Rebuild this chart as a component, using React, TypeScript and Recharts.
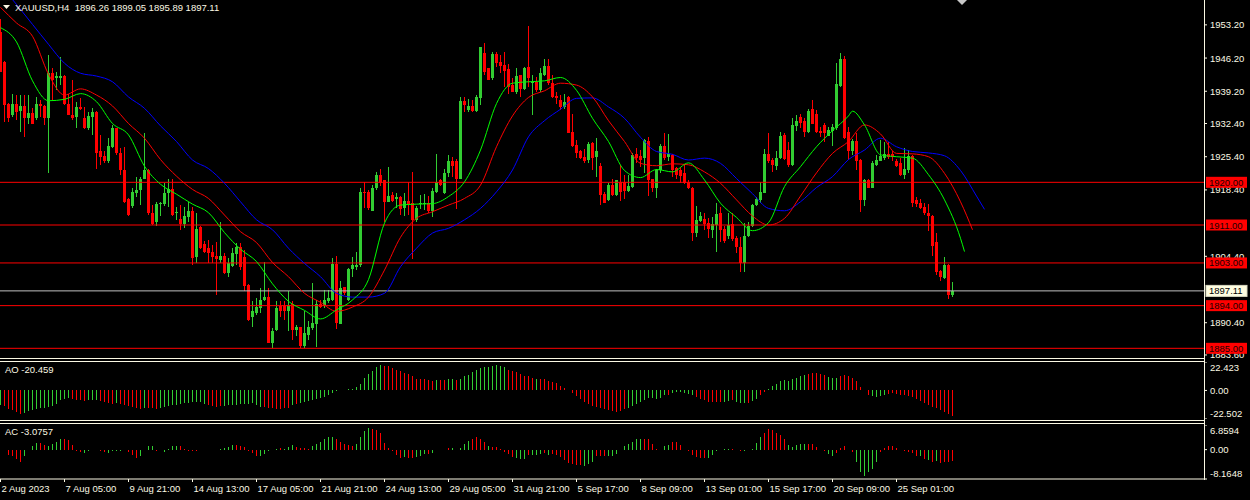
import React from 'react';
import { ComposedChart, Bar, Line, XAxis, YAxis, ReferenceLine } from 'recharts';

// XAUUSD H4 candles, bar 0 = left edge, bar 238 = last bar
const OPEN = [1951.7,1945.4,1936.6,1934.2,1936.6,1935.1,1936.1,1933.5,1934.7,1933.5,
1936.5,1936.1,1933.5,1943.0,1941.9,1941.9,1942.4,1936.5,1934.2,1933.7,
1935.8,1933.5,1931.4,1933.8,1934.9,1926.5,1925.5,1924.4,1927.5,1931.4,
1926.2,1922.7,1916.4,1915.0,1917.7,1918.4,1920.8,1922.6,1913.5,1911.7,
1915.4,1915.4,1917.8,1918.5,1913.5,1912.3,1911.2,1912.6,1914.0,1904.2,
1910.5,1906.9,1906.2,1905.4,1904.5,1903.6,1904.5,1900.8,1902.4,1904.9,
1906.3,1904.3,1898.4,1891.6,1892.4,1893.5,1895.1,1895.9,1886.2,1888.9,
1894.0,1894.0,1892.8,1894.4,1888.9,1889.4,1885.4,1887.9,1889.3,1890.2,
1894.4,1894.0,1894.9,1895.2,1902.8,1890.2,1897.9,1895.2,1901.7,1902.2,
1902.6,1918.0,1918.0,1914.0,1918.7,1921.5,1920.5,1915.9,1917.3,1916.4,
1917.0,1914.5,1916.1,1915.6,1912.1,1915.4,1915.4,1915.7,1914.0,1918.0,
1920.4,1917.7,1921.9,1924.6,1924.4,1920.8,1937.2,1935.2,1936.1,1935.1,
1937.7,1947.3,1944.0,1941.9,1947.0,1945.4,1944.7,1943.8,1940.5,1939.1,
1942.6,1939.6,1944.4,1940.9,1941.2,1939.4,1942.6,1944.5,1940.9,1938.2,
1937.3,1935.8,1937.9,1930.7,1927.9,1926.5,1925.4,1924.8,1928.2,1925.3,
1923.4,1917.5,1916.3,1919.4,1917.3,1920.1,1920.1,1918.2,1919.1,1926.0,
1925.6,1925.1,1928.8,1920.6,1918.9,1922.5,1927.7,1925.4,1925.8,1923.0,
1922.5,1921.9,1920.1,1918.9,1909.3,1911.9,1912.2,1911.4,1910.0,1911.0,
1913.5,1910.1,1908.6,1911.2,1908.2,1906.4,1903.0,1908.6,1910.7,1915.2,
1916.3,1917.8,1926.0,1924.7,1923.4,1925.1,1930.0,1926.8,1923.6,1931.9,
1933.7,1933.0,1930.7,1935.4,1934.4,1930.9,1932.1,1929.8,1930.9,1931.4,
1940.3,1945.9,1930.7,1926.5,1928.8,1924.7,1916.3,1920.5,1918.9,1923.6,
1924.6,1925.1,1926.0,1926.0,1924.6,1924.1,1921.5,1922.6,1925.6,1916.3,
1915.7,1914.7,1913.6,1912.9,1907.5,1901.2,1899.8,1902.6,1896.26];

const HIGH = [1954.5,1945.6,1936.8,1938.7,1938.4,1938.4,1938.4,1938.4,1935.6,1938.0,
1937.3,1936.2,1946.8,1944.0,1943.3,1946.5,1942.6,1938.7,1941.6,1937.0,
1937.7,1935.9,1934.9,1935.6,1935.0,1930.0,1926.5,1929.3,1932.1,1931.5,
1927.2,1927.5,1916.6,1918.7,1921.2,1921.2,1930.3,1922.9,1915.2,1915.9,
1915.9,1919.9,1920.8,1920.8,1914.9,1915.2,1914.9,1915.9,1914.9,1913.5,
1910.7,1907.6,1907.9,1906.8,1907.5,1911.7,1905.0,1904.0,1906.1,1907.2,
1907.2,1905.8,1898.5,1894.9,1895.6,1897.7,1903.3,1897.7,1889.3,1894.9,
1894.9,1894.9,1897.0,1894.9,1890.0,1889.6,1892.8,1890.7,1898.7,1895.2,
1895.2,1897.3,1897.3,1904.0,1904.5,1899.1,1898.0,1901.9,1904.3,1905.4,
1918.7,1920.1,1918.4,1919.4,1922.2,1922.9,1920.5,1923.3,1918.0,1917.7,
1917.1,1917.8,1920.1,1922.2,1915.0,1917.3,1917.5,1917.1,1918.7,1926.0,
1920.8,1922.9,1925.8,1925.4,1924.9,1938.0,1938.0,1937.5,1937.3,1938.4,
1948.6,1949.3,1944.1,1947.5,1947.5,1946.8,1947.5,1944.9,1941.9,1944.0,
1942.7,1944.4,1952.9,1942.6,1942.3,1944.0,1945.9,1946.1,1942.6,1939.1,
1938.4,1938.7,1938.2,1934.5,1928.9,1926.8,1927.0,1928.6,1928.4,1929.3,
1924.0,1918.0,1919.8,1920.6,1920.5,1923.6,1921.5,1921.5,1926.1,1927.2,
1926.8,1929.1,1929.6,1920.8,1922.9,1928.1,1930.5,1930.2,1926.0,1923.3,
1923.3,1923.6,1920.5,1919.0,1915.0,1913.8,1913.5,1912.4,1912.6,1915.6,
1914.9,1910.7,1913.5,1913.5,1908.6,1908.4,1911.4,1911.7,1915.4,1917.0,
1920.1,1927.0,1930.3,1925.1,1926.5,1930.7,1930.3,1928.6,1933.5,1934.2,
1934.5,1933.5,1935.4,1937.3,1935.2,1931.7,1932.6,1931.7,1932.4,1945.1,
1947.3,1946.6,1931.7,1929.1,1930.5,1924.9,1920.8,1920.8,1924.5,1925.8,
1928.9,1928.6,1928.4,1926.5,1924.9,1925.1,1927.2,1926.8,1925.8,1917.0,
1916.4,1915.6,1915.4,1913.1,1909.3,1901.5,1904.2,1902.7,1899.05];

const LOW = [1943.3,1932.8,1932.8,1933.8,1933.1,1930.7,1929.6,1932.4,1932.3,1933.1,
1933.8,1932.1,1921.9,1937.3,1939.4,1940.5,1936.3,1934.1,1933.1,1931.4,
1935.2,1931.3,1931.0,1930.0,1922.9,1923.6,1924.0,1924.0,1927.2,1925.8,
1921.5,1915.6,1913.0,1914.5,1917.0,1915.2,1920.8,1913.1,1911.0,1910.7,
1912.8,1915.0,1914.9,1912.8,1912.1,1910.0,1910.3,1911.7,1902.6,1903.0,
1906.0,1905.0,1903.0,1903.0,1896.3,1903.0,1900.7,1900.1,1902.2,1902.6,
1901.5,1897.0,1890.8,1889.6,1892.1,1892.4,1894.9,1886.1,1885.0,1888.6,
1891.7,1891.0,1888.6,1886.8,1887.5,1885.0,1885.0,1886.8,1888.9,1885.2,
1893.5,1893.5,1894.5,1894.9,1889.0,1890.1,1896.3,1894.9,1900.0,1901.5,
1902.2,1914.5,1914.2,1914.0,1918.4,1919.2,1911.7,1915.9,1915.9,1914.5,
1913.1,1912.9,1913.1,1903.8,1911.7,1914.3,1914.2,1913.5,1912.6,1917.7,
1919.2,1917.5,1921.2,1921.2,1914.3,1920.6,1934.9,1934.9,1934.9,1934.9,
1936.3,1942.6,1941.5,1941.6,1944.4,1943.0,1940.1,1938.7,1939.0,1938.7,
1938.0,1939.4,1940.0,1934.2,1939.1,1939.1,1942.4,1940.5,1937.7,1936.6,
1935.2,1935.5,1930.3,1927.5,1925.1,1924.9,1924.1,1924.1,1922.5,1921.1,
1915.2,1915.6,1916.1,1917.1,1917.1,1916.1,1916.4,1918.0,1918.9,1924.0,
1923.3,1921.9,1917.1,1918.0,1916.6,1922.0,1924.7,1924.4,1921.2,1920.8,
1919.9,1919.7,1918.5,1907.7,1908.4,1911.7,1910.0,1908.2,1908.2,1905.4,
1907.5,1907.2,1908.0,1907.7,1905.0,1901.0,1901.0,1908.4,1910.5,1915.0,
1915.6,1917.7,1924.1,1922.2,1922.5,1924.9,1924.7,1923.3,1923.4,1930.9,
1931.4,1929.6,1930.5,1932.3,1930.3,1929.6,1928.4,1929.7,1927.7,1931.1,
1940.0,1929.1,1924.7,1925.8,1922.6,1913.8,1915.0,1918.7,1918.7,1923.4,
1924.4,1924.7,1924.9,1924.4,1923.3,1921.3,1920.8,1922.0,1914.9,1914.9,
1914.3,1913.1,1909.8,1904.5,1900.5,1899.1,1899.6,1895.4,1895.89];

const CLOSE = [1943.3,1936.3,1933.5,1936.6,1934.9,1936.1,1933.5,1934.7,1932.4,1936.5,
1936.1,1933.5,1943.0,1941.6,1942.4,1942.4,1936.6,1934.2,1933.5,1935.9,
1935.4,1931.4,1934.0,1934.9,1926.1,1925.4,1924.4,1927.7,1931.4,1926.1,
1922.6,1915.9,1913.1,1918.0,1918.4,1920.8,1922.6,1913.5,1911.2,1915.4,
1915.7,1917.8,1918.5,1913.1,1913.7,1911.2,1912.8,1914.0,1904.0,1910.1,
1906.1,1905.3,1905.0,1904.2,1903.8,1904.5,1900.8,1903.0,1905.2,1906.3,
1902.2,1898.2,1890.9,1892.8,1893.7,1895.2,1895.9,1886.2,1888.7,1893.5,
1892.8,1892.8,1894.2,1888.9,1889.4,1885.4,1888.2,1889.6,1890.3,1894.4,
1893.8,1895.2,1895.6,1902.8,1890.3,1897.7,1896.6,1901.7,1902.6,1902.6,
1918.0,1917.8,1914.5,1918.7,1921.5,1919.8,1915.9,1917.1,1916.1,1917.0,
1914.3,1916.1,1915.2,1912.1,1914.5,1915.7,1915.7,1914.0,1918.2,1920.1,
1919.4,1922.0,1924.6,1923.4,1920.8,1937.2,1936.3,1936.1,1935.1,1937.9,
1948.6,1943.3,1941.6,1947.0,1945.1,1944.5,1943.5,1940.0,1939.1,1942.4,
1939.6,1944.0,1942.1,1941.2,1939.4,1943.1,1944.5,1940.9,1938.0,1937.7,
1935.8,1936.9,1930.5,1927.7,1926.2,1925.1,1924.6,1928.1,1925.1,1926.5,
1917.3,1915.7,1919.4,1917.3,1920.4,1918.0,1918.2,1919.2,1925.8,1925.1,
1924.8,1928.9,1920.5,1918.9,1922.5,1927.7,1925.1,1926.0,1922.6,1921.5,
1921.3,1919.9,1918.7,1909.3,1912.1,1912.9,1911.2,1910.1,1911.2,1913.3,
1910.0,1907.7,1911.0,1908.0,1906.4,1903.0,1908.6,1910.7,1915.2,1916.4,
1918.0,1926.0,1924.6,1923.6,1925.1,1929.8,1924.9,1923.6,1932.1,1933.0,
1932.6,1930.7,1935.1,1932.4,1930.7,1930.3,1930.5,1931.0,1931.7,1940.7,
1945.9,1929.3,1926.7,1928.8,1924.6,1916.3,1920.5,1918.9,1924.1,1924.8,
1925.6,1926.0,1925.3,1925.3,1923.4,1921.5,1922.9,1925.6,1915.7,1915.4,
1914.5,1913.5,1912.8,1906.6,1901.0,1900.0,1902.6,1896.3,1897.11];

// Alligator lines, [bar, price]
const JAW = [[0,1961.6],[4,1957.5],[8,1953.3],[12,1949.1],[16,1945.1],[20,1943.0],[24,1942.4],[28,1941.2],[32,1938.0],[36,1935.6],
[40,1931.9],[44,1928.6],[48,1924.7],[52,1922.9],[56,1919.8],[60,1915.9],[64,1912.1],[68,1910.0],[72,1906.1],[76,1902.9],
[80,1900.1],[84,1896.6],[88,1895.8],[92,1895.8],[96,1896.6],[100,1902.2],[104,1906.1],[108,1909.3],[112,1910.3],[116,1912.1],
[120,1914.5],[124,1918.0],[128,1922.6],[132,1929.6],[136,1933.0],[140,1935.4],[144,1937.7],[148,1937.8],[152,1935.9],[156,1933.5],
[160,1929.5],[164,1926.5],[168,1925.9],[172,1924.7],[176,1925.1],[180,1924.0],[184,1920.8],[188,1917.6],[192,1914.5],[196,1914.0],
[200,1915.9],[204,1918.9],[208,1921.2],[212,1924.8],[216,1926.8],[220,1929.3],[224,1927.5],[228,1926.5],[232,1926.2],[236,1925.6],
[240,1922.5],[244,1917.1],[246,1914.3]];
const TEETH = [[0,1956.9],[4,1953.6],[8,1950.8],[12,1942.8],[16,1938.4],[20,1939.7],[24,1938.4],[28,1936.1],[32,1932.4],[36,1929.3],
[40,1924.8],[44,1921.3],[48,1918.5],[52,1916.6],[56,1913.1],[60,1909.6],[64,1907.3],[68,1903.1],[72,1900.1],[76,1896.6],
[80,1894.7],[84,1892.8],[88,1893.7],[92,1895.8],[96,1901.5],[100,1908.4],[104,1912.4],[108,1913.8],[112,1915.2],[116,1916.6],
[120,1919.4],[124,1927.5],[128,1934.0],[132,1937.9],[136,1939.3],[140,1940.9],[144,1940.5],[148,1938.0],[152,1933.0],[156,1928.6],
[160,1924.0],[164,1923.5],[168,1923.9],[172,1923.7],[176,1922.2],[180,1919.8],[184,1916.3],[188,1912.9],[192,1911.0],[196,1912.4],
[200,1917.1],[204,1922.0],[208,1926.1],[212,1928.6],[216,1932.1],[220,1930.2],[224,1926.1],[228,1926.0],[232,1925.4],[236,1921.9],
[240,1915.9],[243,1910.0]];
const LIPS = [[0,1952.6],[4,1949.6],[8,1941.4],[12,1937.2],[16,1937.5],[20,1938.7],[24,1937.0],[28,1932.4],[32,1930.0],[36,1923.4],
[40,1919.6],[44,1917.5],[48,1915.4],[52,1913.6],[56,1909.4],[60,1905.9],[64,1903.3],[68,1898.6],[72,1894.9],[76,1893.0],
[80,1891.2],[84,1893.1],[88,1895.2],[92,1899.5],[96,1911.4],[100,1915.2],[104,1915.4],[108,1915.5],[112,1917.0],[116,1920.1],
[120,1926.8],[124,1936.6],[128,1940.9],[132,1941.2],[136,1941.4],[140,1942.1],[144,1939.4],[148,1933.5],[152,1928.6],[156,1922.5],
[160,1921.0],[164,1922.7],[168,1922.2],[172,1924.1],[176,1920.5],[180,1915.6],[184,1912.6],[188,1909.8],[192,1911.5],[196,1919.1],
[200,1923.3],[204,1927.5],[208,1930.9],[212,1934.0],[213,1935.0],[216,1932.1],[220,1925.8],[224,1925.4],[228,1925.1],[232,1921.6],
[236,1916.3],[240,1908.2],[241,1905.4]];

const AO = [-11.8,-12.3,-14.4,-15.7,-17.1,-18.9,-17.6,-16.5,-15.2,-14.4,
-13.9,-13.6,-13.1,-12.3,-10.5,-7.9,-6.6,-6.0,-6.6,-7.3,
-7.9,-8.4,-7.9,-7.6,-7.3,-8.1,-9.2,-9.7,-10.5,-9.7,
-10.5,-11.8,-12.6,-13.1,-13.9,-14.4,-13.6,-13.9,-14.2,-14.4,
-13.6,-13.1,-12.3,-11.8,-11.3,-10.5,-10.0,-9.7,-9.4,-9.2,
-8.9,-10.5,-11.8,-12.6,-13.1,-12.6,-12.1,-11.8,-11.5,-11.3,
-11.0,-10.8,-10.5,-10.2,-11.8,-12.9,-13.4,-13.9,-14.2,-14.4,
-14.7,-13.9,-14.2,-11.3,-10.5,-10.0,-9.2,-8.4,-7.9,-7.1,
-6.0,-5.0,-3.9,-2.1,-0.8,0.2,0.5,1.3,1.3,2.6,
5.2,9.7,12.6,15.0,18.4,19.7,18.9,18.9,17.8,16.5,
15.0,13.9,12.6,11.0,9.4,9.4,8.7,7.9,7.1,7.9,
7.9,7.9,8.7,9.4,7.9,8.7,11.0,12.3,14.4,16.5,
17.3,18.1,18.1,18.9,19.7,18.9,18.1,16.5,15.7,14.2,
12.6,11.0,11.0,10.2,8.7,8.7,8.7,7.1,6.3,5.5,
3.9,1.8,0.2,-2.1,-4.5,-7.1,-9.2,-11.0,-12.3,-12.9,
-13.9,-15.0,-15.7,-16.5,-17.1,-16.3,-15.0,-13.9,-12.3,-10.5,
-9.2,-7.3,-6.0,-6.0,-6.6,-6.0,-3.9,-3.4,-2.1,-1.3,
-1.3,-2.1,-2.9,-3.4,-5.2,-7.1,-7.9,-9.2,-9.4,-9.2,
-9.0,-9.3,-8.7,-7.9,-9.2,-10.0,-10.1,-10.0,-8.7,-6.6,
-3.9,-1.3,1.3,3.4,4.7,7.1,7.9,7.8,8.7,9.7,
11.3,12.3,13.1,13.6,13.5,12.6,11.8,10.8,9.7,9.8,
11.0,11.8,11.0,10.2,7.1,2.6,0.5,-3.4,-4.5,-5.2,
-4.7,-3.9,-3.1,-2.1,-3.1,-3.4,-3.9,-4.7,-5.2,-7.1,
-8.4,-10.0,-11.8,-13.1,-13.9,-15.7,-17.1,-18.4,-20.459];
const AO_COLORS =
  'grrrrrggggggggggggrrrrgggrrrrgrrrrrrgrrrggggggggggg' +
  'grrrrggggggggggrrrrrrrgrgggggggggggggggggggggrrrrrrr' +
  'rrrrrrgrrggrggggggggggggrrrrrrrgrrrrrrrrrrrrrrrrrrrr' +
  'rrggggggggggrggggggrrrrrrrggrgggrggrrggggggggggrrrrrggg' +
  'rrrrrrrrggggrrrrrrrrrrrrrrr';

const AC = [-0.2,0,-1.4,-1.8,-2.6,-3.3,-1.8,0,1.1,1.8,
1.9,1.3,0.9,1.5,2.2,2.9,3.0,2.7,1.3,-0.3,
-0.7,-1.0,-0.3,0,-0.2,-0.3,-0.7,-1.0,-0.3,-0.3,
-0.3,-0.2,-0.7,-1.6,-2.4,-1.8,0,0.9,0.9,-0.3,
0,-0.7,0.1,0.9,1.1,0.9,0.1,-0.3,-0.3,-0.3,
0,-0.2,-0.2,-0.2,-0.1,0.2,0.4,0.6,1.3,1.3,
0.9,0.6,-0.3,-0.9,-1.8,-1.8,-1.2,-0.5,0,0.2,
0.4,0.2,0.6,1.3,0.6,0.5,0.4,0.2,0.9,1.5,
2.2,2.9,3.4,3.4,2.9,2.2,1.5,1.3,1.1,1.5,
3.4,5.2,6.1,5.8,5.6,4.6,1.8,0.5,-0.5,-1.6,
-2.4,-2.1,-2.4,-2.4,-2.1,-1.8,-1.3,-1.3,-1.0,0,
0,-0.2,0.5,0.5,-0.2,0.4,1.5,2.5,2.9,3.6,
2.9,2.2,1.1,0.8,0.8,0.2,-0.7,-1.3,-2.1,-2.4,
-2.6,-2.6,-1.6,-1.6,-1.5,-1.3,-1.0,-1.6,-1.3,-1.6,
-2.1,-3.0,-3.6,-4.0,-4.2,-4.4,-4.6,-4.1,-3.3,-1.8,
-1.8,-1.8,-1.9,-1.8,-1.3,0,0.9,1.6,2.2,2.9,
2.9,2.9,2.9,1.6,0.3,-0.2,0.9,1.3,2.2,2.2,
1.3,-0.1,-0.3,-1.6,-2.1,-2.4,-2.4,-2.4,-1.6,-0.5,
0,0.1,0.2,0.2,0,-0.5,-0.5,-0.2,0.2,1.8,
3.4,4.6,5.8,5.5,4.6,4.0,2.9,1.3,0.6,1.3,
1.5,1.5,1.5,1.5,0.6,0,-0.5,-1.2,-1.8,-1.0,
0.5,1.1,-0.2,-0.7,-3.5,-6.2,-7.3,-6.2,-5.3,-3.3,
-0.7,0.4,1.1,1.1,0.5,-0.2,-0.5,-0.7,-0.9,-1.8,
-1.9,-2.6,-3.0,-3.3,-3.1,-3.6,-3.3,-3.3,-3.0757];
const AC_COLORS =
  'grrrrrggggrrggggrrrrrggggrrgggggrrrggggrrggggrrrrrrrrrggggg' +
  'rrrrrrgggggrgggrrrrggggg' +
  'grrrrrggggrrrrrrrrgrrgggrggggrgggggrrrrgrrrrrrgggrgggrgrrrrrrrrgggrrrgggggggggrrr' +
  'rgggrrrrrrrrrggggggrrrgggggrrrrrrgggggrrrrrggrrrrrggggggrrrrrrrrrrgrgrg';

const PRICE_TICKS = [1953.2, 1946.2, 1939.2, 1932.4, 1925.4, 1918.4, 1904.4, 1890.4, 1883.6];
const LEVELS = [1920, 1911, 1903, 1894, 1885];
const BID = 1897.11;
const DATE_TICKS = [0, 16, 32, 48, 64, 80, 96, 112, 128, 144, 160, 176, 192, 208, 224];
const DATE_LABELS = ['2 Aug 2023', '7 Aug 05:00', '9 Aug 21:00', '14 Aug 13:00', '17 Aug 05:00', '21 Aug 21:00',
  '24 Aug 13:00', '29 Aug 05:00', '31 Aug 21:00', '5 Sep 17:00', '8 Sep 09:00', '13 Sep 01:00',
  '15 Sep 17:00', '20 Sep 09:00', '25 Sep 01:00'];

const FG = '#fbf8e4';
const BULL = '#32cd32';
const BEAR = '#ff0000';
const FONT = "'Liberation Sans', Arial, sans-serif";
const FS = 9.5;
const X_DOMAIN = [-0.125, 300.875];
const PRICE_DOMAIN = [1882.96, 1958.44];

const rows: any[] = Array.from({ length: 247 }, (_, i) => ({
  i,
  o: OPEN[i], h: HIGH[i], l: LOW[i], c: CLOSE[i],
  ao: AO[i], ac: AC[i],
  aoCol: AO_COLORS[i] === 'g' ? BULL : BEAR,
  acCol: AC_COLORS[i] === 'g' ? BULL : BEAR,
}));
JAW.forEach(([i, v]) => { rows[i].jaw = v; });
TEETH.forEach(([i, v]) => { rows[i].teeth = v; });
LIPS.forEach(([i, v]) => { rows[i].lips = v; });

function Candle(p: any) {
  const { x, y, width, height, payload } = p;
  if (payload == null || payload.h == null) return null;
  const top = Math.min(y, y + height);
  const span = Math.abs(height);
  const range = payload.h - payload.l;
  const py = (v: number) => (range === 0 ? top : top + ((payload.h - v) / range) * span);
  const up = payload.c >= payload.o;
  const col = up ? BULL : BEAR;
  const b1 = py(Math.max(payload.o, payload.c));
  const b2 = py(Math.min(payload.o, payload.c));
  const cx = x + width / 2;
  return (
    <g shapeRendering="crispEdges">
      <rect x={cx - 0.5} y={top} width={1} height={Math.max(span, 1)} fill={col} />
      <rect x={cx - 1.5} y={b1} width={3} height={Math.max(b2 - b1, 1)} fill={col} />
    </g>
  );
}

function Hist(p: any) {
  const { x, y, width, height, col } = p;
  if (height == null || isNaN(height)) return null;
  const top = Math.min(y, y + height);
  return <rect x={x + width / 2 - 0.5} y={top} width={1} height={Math.abs(height)} fill={col} shapeRendering="crispEdges" />;
}

function LevelLabel({ viewBox, text, bg, color, border }: any) {
  if (!viewBox) return null;
  const bx = viewBox.x + viewBox.width + 2;
  return (
    <g>
      <rect x={bx} y={viewBox.y - 5.5} width={41} height={11} fill={bg} stroke={border || 'none'} strokeWidth={border ? 1 : 0} />
      <text x={bx + 3} y={viewBox.y + 3.5} fill={color} fontSize={FS} fontFamily={FONT}>{text}</text>
    </g>
  );
}

const PriceTick = ({ x, y, payload }: any) => (
  <text x={x} y={y} dy={3.5} fill={FG} fontSize={FS} fontFamily={FONT}>{payload.value.toFixed(2)}</text>
);

const makeSubTick = (labels: string[], top: number, bottom: number) => ({ x, y, payload }: any) => {
  const v = payload.value;
  const label = v === top ? labels[0] : v === bottom ? labels[2] : labels[1];
  const dy = v === top ? 9 : v === bottom ? -2 : 3.5;
  return <text x={x} y={y} dy={dy} fill={FG} fontSize={FS} fontFamily={FONT}>{label}</text>;
};

const DateTick = ({ x, y, payload }: any) => {
  const idx = DATE_TICKS.indexOf(payload.value);
  return <text x={x + 1} y={y} dy={8} fill={FG} fontSize={FS} fontFamily={FONT}>{DATE_LABELS[idx]}</text>;
};

const hline = (top: number) => (
  <div style={{ position: 'absolute', left: 0, top, width: 1205, height: 1, background: FG }} />
);

const textStyle: React.CSSProperties = { position: 'absolute', color: FG, fontSize: FS, fontFamily: FONT, whiteSpace: 'pre', lineHeight: '11px' };

export default function App() {
  return (
    <div style={{ position: 'absolute', left: 0, top: 0, width: 1250, height: 500, background: '#000', overflow: 'hidden' }}>
      <div style={{ position: 'absolute', left: 0, top: 0 }}>
        <ComposedChart width={1250} height={358} data={rows} margin={{ top: 0, right: 0, bottom: 0, left: 0 }}>
          <XAxis dataKey="i" type="number" domain={X_DOMAIN} allowDataOverflow hide />
          <YAxis orientation="right" width={46} domain={PRICE_DOMAIN} allowDataOverflow ticks={PRICE_TICKS}
            interval={0} axisLine={false} tickLine={{ stroke: FG }} tickSize={3} tickMargin={3} tick={PriceTick} />
          {LEVELS.map((lv) => (
            <ReferenceLine key={lv} y={lv} stroke={BEAR} strokeWidth={1} />
          ))}
          <ReferenceLine y={BID} stroke="#c0c0c0" strokeWidth={1} />
          <Bar dataKey={(r: any) => (r.h == null ? null : [r.l, r.h])} barSize={3} shape={Candle} isAnimationActive={false} />
          <Line dataKey="jaw" type="monotone" stroke="#0000ff" strokeWidth={1} dot={false} activeDot={false} connectNulls isAnimationActive={false} />
          <Line dataKey="teeth" type="monotone" stroke="#ff0000" strokeWidth={1} dot={false} activeDot={false} connectNulls isAnimationActive={false} />
          <Line dataKey="lips" type="monotone" stroke="#00ff00" strokeWidth={1} dot={false} activeDot={false} connectNulls isAnimationActive={false} />
        </ComposedChart>
      </div>

      {/* price-level tags drawn in an overlay chart so they sit above the axis labels */}
      <div style={{ position: 'absolute', left: 0, top: 0, pointerEvents: 'none' }}>
        <ComposedChart width={1250} height={358} data={rows} margin={{ top: 0, right: 46, bottom: 0, left: 0 }}>
          <XAxis dataKey="i" type="number" domain={X_DOMAIN} allowDataOverflow hide />
          <YAxis domain={PRICE_DOMAIN} allowDataOverflow hide />
          {LEVELS.map((lv) => (
            <ReferenceLine key={lv} y={lv} stroke="none"
              label={(p: any) => <LevelLabel viewBox={p.viewBox} text={lv.toFixed(2)} bg={BEAR} color="#1a0000" />} />
          ))}
          <ReferenceLine y={BID} stroke="none"
            label={(p: any) => <LevelLabel viewBox={p.viewBox} text={BID.toFixed(2)} bg="#fffde0" color="#000" border="#d8d8c0" />} />
        </ComposedChart>
      </div>

      <div style={{ position: 'absolute', left: 0, top: 362 }}>
        <ComposedChart width={1250} height={57} data={rows} margin={{ top: 0, right: 0, bottom: 0, left: 0 }}>
          <XAxis dataKey="i" type="number" domain={X_DOMAIN} allowDataOverflow hide />
          <YAxis orientation="right" width={46} domain={[-22.502, 22.423]} allowDataOverflow ticks={[22.423, 0, -22.502]}
            interval={0} axisLine={false} tickLine={{ stroke: FG }} tickSize={3} tickMargin={3}
            tick={makeSubTick(['22.423', '0.00', '-22.502'], 22.423, -22.502)} />
          <Bar dataKey="ao" barSize={1} shape={(p: any) => <Hist {...p} col={p.payload.aoCol} />} isAnimationActive={false} />
        </ComposedChart>
      </div>

      <div style={{ position: 'absolute', left: 0, top: 425 }}>
        <ComposedChart width={1250} height={75} data={rows} margin={{ top: 0, right: 0, bottom: 0, left: 0 }}>
          <XAxis dataKey="i" type="number" domain={X_DOMAIN} allowDataOverflow ticks={DATE_TICKS} interval={0}
            height={21} axisLine={{ stroke: FG }} tickLine={{ stroke: FG }} tickSize={3} tickMargin={2} tick={DateTick} />
          <YAxis orientation="right" width={46} domain={[-8.1648, 6.8594]} allowDataOverflow ticks={[6.8594, 0, -8.1648]}
            interval={0} axisLine={false} tickLine={{ stroke: FG }} tickSize={3} tickMargin={3}
            tick={makeSubTick(['6.8594', '0.00', '-8.1648'], 6.8594, -8.1648)} />
          <Bar dataKey="ac" barSize={1} shape={(p: any) => <Hist {...p} col={p.payload.acCol} />} isAnimationActive={false} />
        </ComposedChart>
      </div>

      {hline(358)}
      {hline(361)}
      {hline(420)}
      {hline(423)}
      <div style={{ position: 'absolute', left: 1204, top: 0, width: 1, height: 480, background: FG }} />

      <svg style={{ position: 'absolute', left: 0, top: 0 }} width={1250} height={12}>
        <polygon points="3,5 10,5 6.5,9" fill={FG} />
        <polygon points="957,0 967,0 962,5" fill="#c8c8c8" />
      </svg>
      <div style={{ ...textStyle, left: 15, top: 2 }}>XAUUSD,H4  1896.26 1899.05 1895.89 1897.11</div>
      <div style={{ ...textStyle, left: 5, top: 364 }}>AO -20.459</div>
      <div style={{ ...textStyle, left: 5, top: 426 }}>AC -3.0757</div>
    </div>
  );
}
